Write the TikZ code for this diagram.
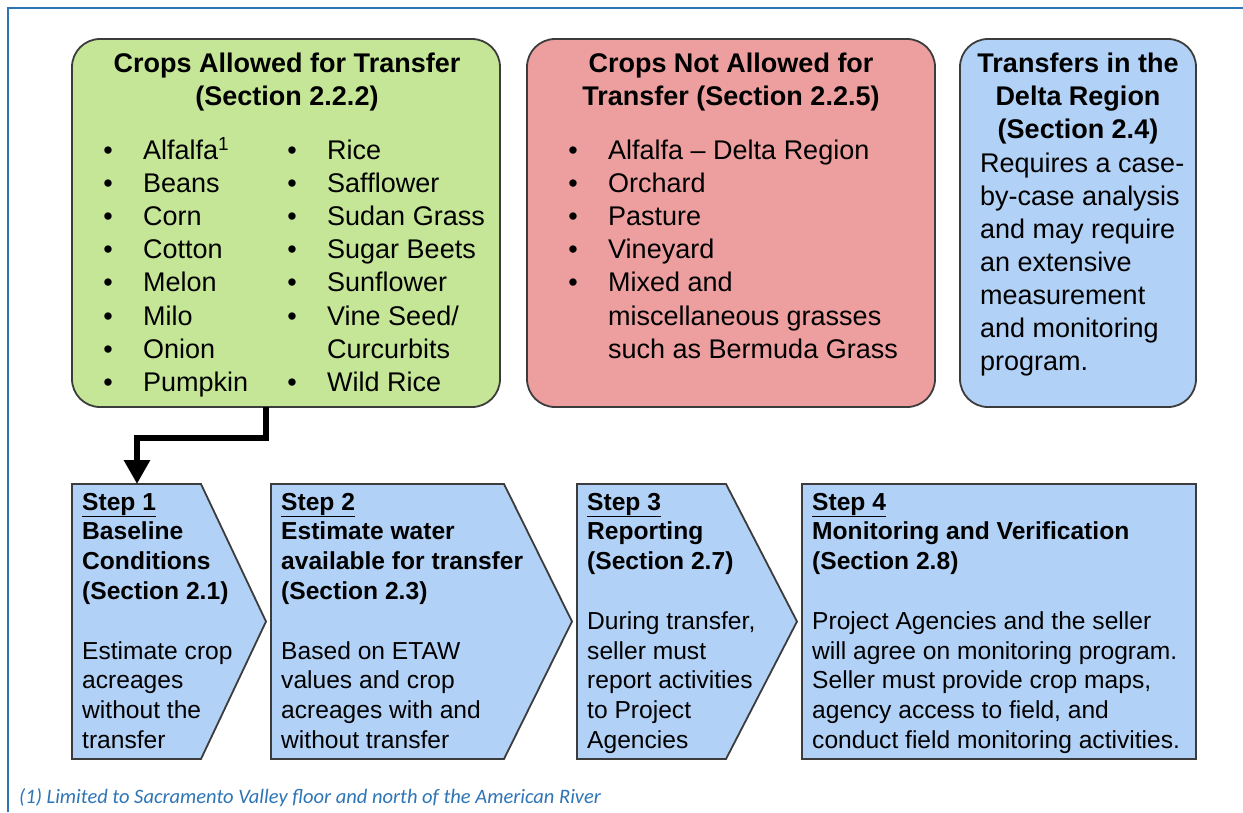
\documentclass[tikz,border=0pt]{standalone}
\usepackage{fontspec}
\setmainfont{Liberation Sans}
\newfontfamily\notefont{Carlito}
\usetikzlibrary{arrows.meta}
\definecolor{frameblue}{RGB}{46,117,182}
\definecolor{boxgreen}{RGB}{197,230,150}
\definecolor{boxred}{RGB}{237,159,159}
\definecolor{boxblue}{RGB}{178,209,246}
\definecolor{edgegray}{RGB}{60,60,60}
\newcommand\itmark{\llap{\makebox[70pt]{•}}}
\begin{document}
\begin{tikzpicture}[x=1pt,y=-1pt,
  box/.style={draw=edgegray, line width=1.8pt, rounded corners=28pt, inner sep=0pt},
  txt/.style={inner sep=0pt, anchor=base west, align=left, font=\fontsize{27}{33.1}\selectfont},
  ttl/.style={inner sep=0pt, anchor=base, align=center, font=\bfseries\fontsize{27}{33.1}\selectfont},
  steptxt/.style={inner sep=0pt, anchor=base west, align=left, font=\fontsize{24.6}{29.8}\selectfont},
  stepshape/.style={draw=edgegray, line width=1.8pt, fill=boxblue, line join=miter},
  flow/.style={line width=6.5pt, -{Triangle[width=25pt,length=24pt]}}
]
\useasboundingbox (0,0) rectangle (1243,812);
\fill[white] (0,0) rectangle (1243,812);
\draw[frameblue, line width=2.5pt] (8,812) -- (8,8) -- (1243,8);

% top boxes
\node[box, fill=boxgreen, minimum width=428pt, minimum height=368pt] (green) at (286,223) {};
\node[box, fill=boxred, minimum width=408pt, minimum height=368pt] (red) at (731,223) {};
\node[box, fill=boxblue, minimum width=236pt, minimum height=368pt] (blue) at (1078,223) {};

% (anchor base = baseline of the last line)
\node[ttl] (greentitle) at (287,105.8) {Crops Allowed for Transfer\\(Section 2.2.2)};
\node[txt] (greenlistA) at (143,391.2) {\itmark Alfalfa\textsuperscript{1}\\\itmark Beans\\\itmark Corn\\\itmark Cotton\\\itmark Melon\\\itmark Milo\\\itmark Onion\\\itmark Pumpkin};
\node[txt] (greenlistB) at (327,391.2) {\itmark Rice\\\itmark Safflower\\\itmark Sudan Grass\\\itmark Sugar Beets\\\itmark Sunflower\\\itmark Vine Seed/\\Curcurbits\\\itmark Wild Rice};

\node[ttl] (redtitle) at (731,105.8) {Crops Not Allowed for\\Transfer (Section 2.2.5)};
\node[txt] (redlist) at (608,358.1) {\itmark Alfalfa – Delta Region\\\itmark Orchard\\\itmark Pasture\\\itmark Vineyard\\\itmark Mixed and\\miscellaneous grasses\\such as Bermuda Grass};

\node[ttl] (bluetitle) at (1078,138.9) {Transfers in the\\Delta Region\\(Section 2.4)};
\node[txt] (bluebody) at (980,370.6) {Requires a case-\\by-case analysis\\and may require\\an extensive\\measurement\\and monitoring\\program.};

% steps
\draw[stepshape] (72,484) -- (201,484) -- (266,621.5) -- (201,759) -- (72,759) -- cycle;
\draw[stepshape] (271,484) -- (504,484) -- (572,621.5) -- (504,759) -- (271,759) -- cycle;
\draw[stepshape] (577,484) -- (726,484) -- (797,621.5) -- (726,759) -- (577,759) -- cycle;
\draw[stepshape] (802,484) rectangle (1196,759);

\node[steptxt] (step1) at (82,748.4) {\textbf{\underline{Step 1}}\\\textbf{Baseline}\\\textbf{Conditions}\\\textbf{(Section 2.1)}\\\mbox{}\\Estimate crop\\acreages\\without the\\transfer};
\node[steptxt] (step2) at (281,748.4) {\textbf{\underline{Step 2}}\\\textbf{Estimate water}\\\textbf{available for transfer}\\\textbf{(Section 2.3)}\\\mbox{}\\Based on ETAW\\values and crop\\acreages with and\\without transfer};
\node[steptxt] (step3) at (587,748.4) {\textbf{\underline{Step 3}}\\\textbf{Reporting}\\\textbf{(Section 2.7)}\\\mbox{}\\During transfer,\\seller must\\report activities\\to Project\\Agencies};
\node[steptxt] (step4) at (812,748.4) {\textbf{\underline{Step 4}}\\\textbf{Monitoring and Verification}\\\textbf{(Section 2.8)}\\\mbox{}\\Project Agencies and the seller\\will agree on monitoring program.\\Seller must provide crop maps,\\agency access to field, and\\conduct field monitoring activities.};

% connector
\coordinate (a0) at (266,407);
\coordinate (a1) at (137,484);
\draw[flow] (a0) -- ++(0,31) -| (a1);

% footnote
\node[anchor=base west, inner sep=0pt, font=\notefont\itshape\fontsize{20.5}{24}\selectfont, text=frameblue] (note) at (19,803) {(1) Limited to Sacramento Valley floor and north of the American River};
\end{tikzpicture}
\end{document}
